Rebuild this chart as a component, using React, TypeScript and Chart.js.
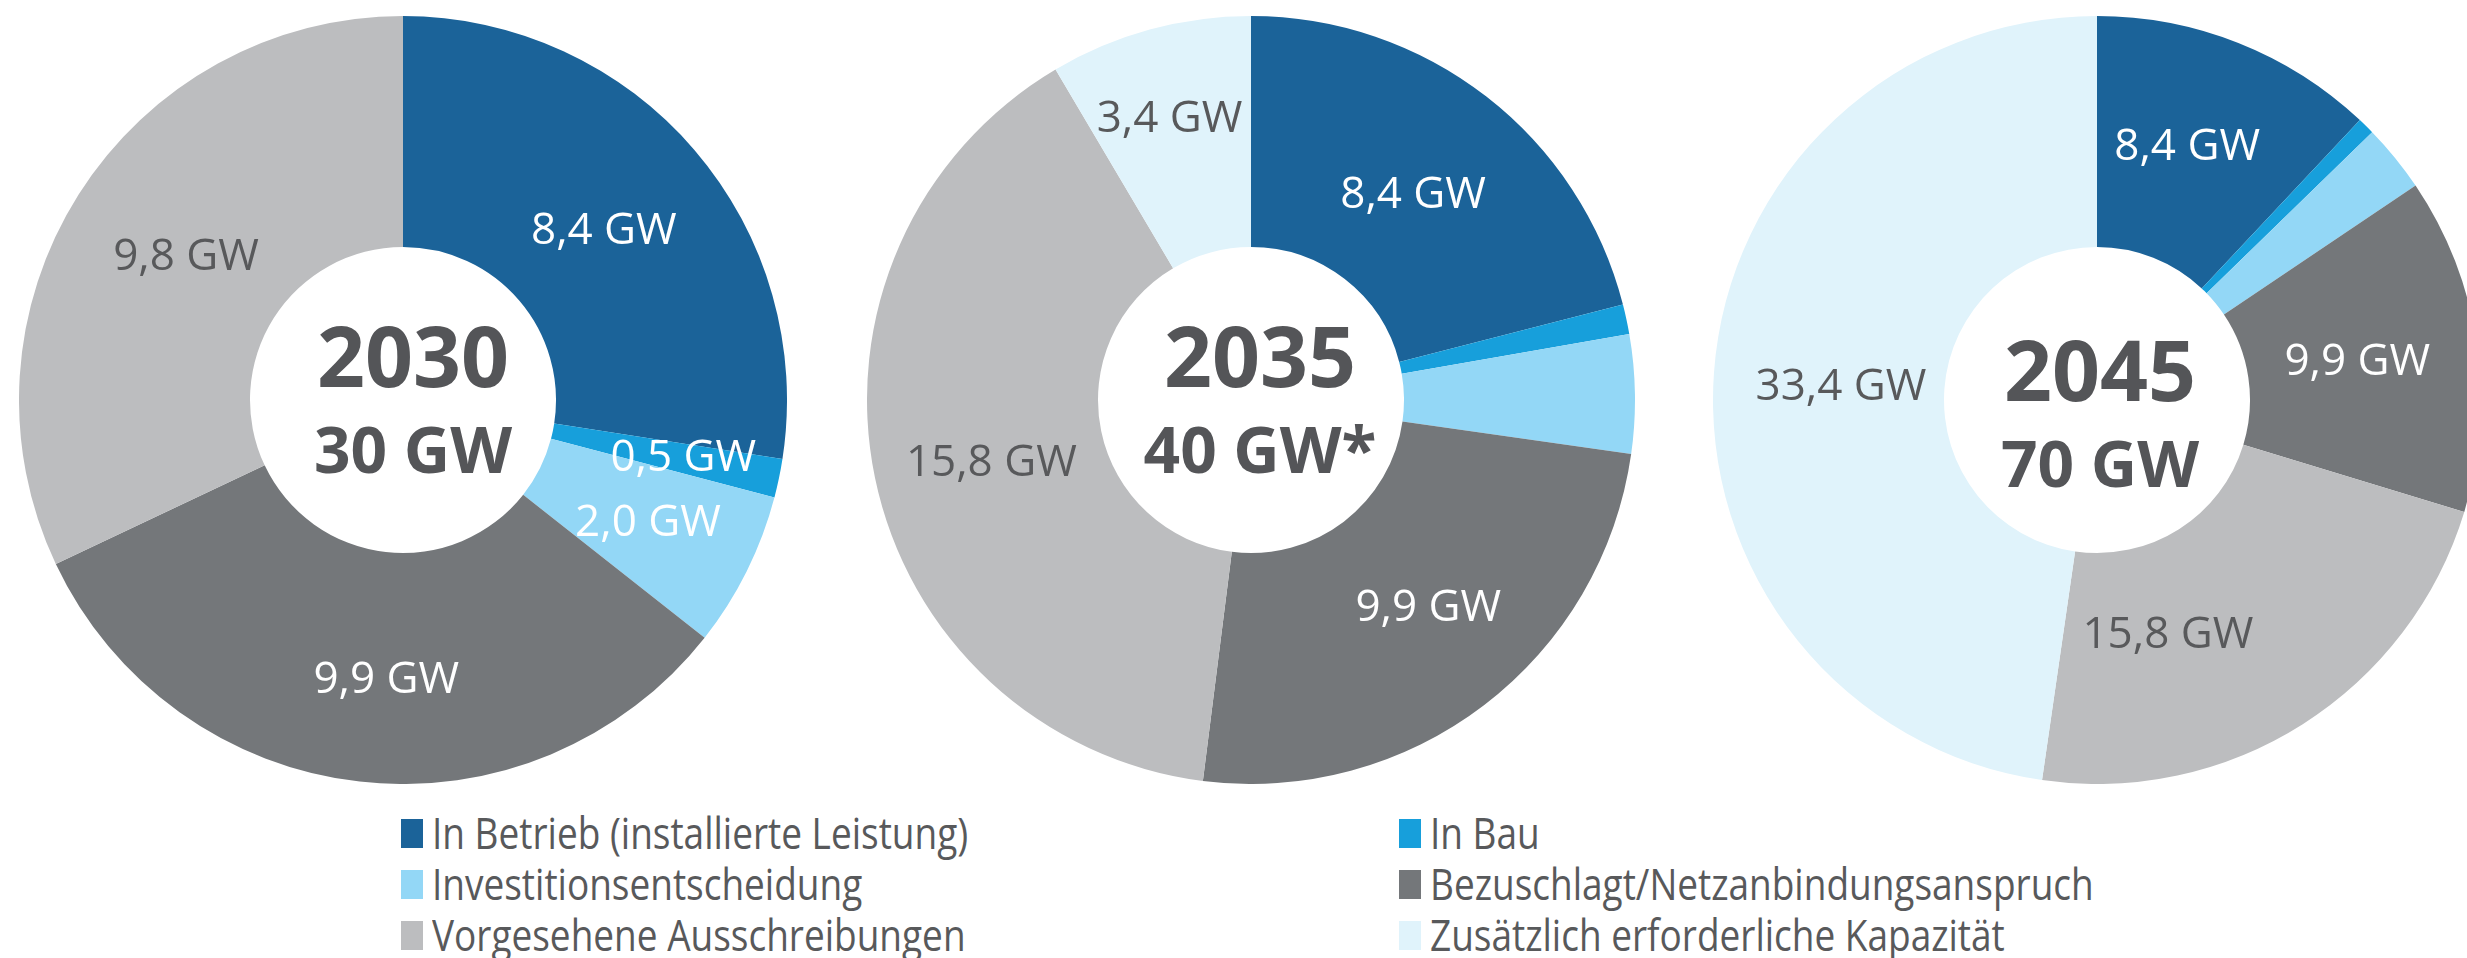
import React, { useEffect, useRef } from 'react';
import { Chart, registerables } from 'chart.js';

Chart.register(...registerables);

// ---------- data ----------
const categories = [
  'In Betrieb (installierte Leistung)',
  'In Bau',
  'Investitionsentscheidung',
  'Bezuschlagt/Netzanbindungsanspruch',
  'Vorgesehene Ausschreibungen',
  'Zusätzlich erforderliche Kapazität',
];
const years = ['2030', '2035', '2045'];
const totals = ['30 GW', '40 GW*', '70 GW'];
const values2030 = [8.4, 0.5, 2.0, 9.9, 9.8, 0];
const values2035 = [8.4, 0.5, 2.0, 9.9, 15.8, 3.4];
const values2045 = [8.4, 0.5, 2.0, 9.9, 15.8, 33.4];
const shownLabels2030 = [true, true, true, true, true, false];
const shownLabels2035 = [true, false, false, true, true, true];
const shownLabels2045 = [true, false, false, true, true, true];

const seriesValues = [values2030, values2035, values2045];
const seriesShown = [shownLabels2030, shownLabels2035, shownLabels2045];

// ---------- styles / layout ----------
const sliceColors = ['#1B6399', '#179FDB', '#93D7F6', '#74777A', '#BCBDBF', '#E0F3FB'];
const labelColors = ['#FFFFFF', '#FFFFFF', '#FFFFFF', '#FFFFFF', '#58595B', '#58595B'];
const TEXT_DARK = '#545558';
const CENTERS_X = [403, 1251, 2097];
const CENTER_Y = 400;
const RADIUS = 384;
const HOLE = 153;
const LABEL_DY = 4;
const centerTextDx = [10, 9, 3];
const centerTextDy = [0, 0, 14];
// label placement tweaks (radius px, angle deg) relative to slice centroid
const labelTweaks = [
  [{ dr: -4, da: 0 }, { dr: 17, da: -0.8 }, { dr: 4, da: -0.5 }, { dr: 8, da: -3 }, { dr: -7, da: 1.6 }, { dr: 0, da: 0 }],
  [{ dr: -4, da: 0 }, { dr: 0, da: 0 }, { dr: 0, da: 0 }, { dr: 2, da: -3.6 }, { dr: -2, da: -1.3 }, { dr: 27, da: -0.7 }],
  [{ dr: 3, da: -2.2 }, { dr: 0, da: 0 }, { dr: 0, da: 0 }, { dr: -5, da: -0.5 }, { dr: -26, da: 15.4 }, { dr: -12, da: -0.5 }],
];

const fmt = (v: number) => v.toFixed(1).replace('.', ',') + ' GW';

function makePlugin(idx: number) {
  return {
    id: 'donutText' + idx,
    afterDatasetsDraw(chart: any) {
      const ctx = chart.ctx as CanvasRenderingContext2D;
      const meta = chart.getDatasetMeta(0);
      const vals = seriesValues[idx];
      const shown = seriesShown[idx];
      ctx.save();
      ctx.font = '44px "Open Sans"';
      ctx.textAlign = 'center';
      ctx.textBaseline = 'middle';
      let cx = 0;
      let cy = 0;
      meta.data.forEach((arc: any, i: number) => {
        const p = arc.getProps(['x', 'y', 'startAngle', 'endAngle', 'innerRadius', 'outerRadius'], true);
        cx = p.x;
        cy = p.y;
        if (!shown[i]) return;
        const tw = labelTweaks[idx][i];
        const mid = (p.startAngle + p.endAngle) / 2 + (tw.da * Math.PI) / 180;
        const r = (p.innerRadius + p.outerRadius) / 2 + tw.dr;
        ctx.fillStyle = labelColors[i];
        ctx.fillText(fmt(vals[i]), p.x + r * Math.cos(mid), p.y + r * Math.sin(mid) + LABEL_DY);
      });
      // center text
      ctx.fillStyle = TEXT_DARK;
      ctx.textBaseline = 'alphabetic';
      ctx.font = 'bold 84px "Open Sans"';
      ctx.fillText(years[idx], cx + centerTextDx[idx], cy - 13 + centerTextDy[idx]);
      ctx.font = 'bold 64px "Open Sans"';
      ctx.fillText(totals[idx], cx + centerTextDx[idx], cy + 73 + centerTextDy[idx]);
      ctx.restore();
    },
  };
}

function Donut({ idx }: { idx: number }) {
  const ref = useRef<HTMLCanvasElement>(null);
  useEffect(() => {
    if (!ref.current) return;
    const chart = new Chart(ref.current, {
      type: 'doughnut',
      data: {
        labels: categories,
        datasets: [
          {
            data: seriesValues[idx],
            backgroundColor: sliceColors,
            borderWidth: 0,
            hoverOffset: 0,
          },
        ],
      },
      options: {
        responsive: false,
        animation: false,
        cutout: HOLE,
        events: [],
        layout: { padding: 0 },
        plugins: { legend: { display: false }, tooltip: { enabled: false } },
      },
      plugins: [makePlugin(idx)],
    } as any);
    return () => chart.destroy();
  }, [idx]);
  return (
    <canvas
      ref={ref}
      width={RADIUS * 2}
      height={RADIUS * 2}
      style={{
        position: 'absolute',
        left: CENTERS_X[idx] - RADIUS,
        top: CENTER_Y - RADIUS,
        width: RADIUS * 2,
        height: RADIUS * 2,
      }}
    />
  );
}

const legendColX = [401, 1399];
const legendRowTop = [807, 858, 909];

function Legend() {
  return (
    <>
      {categories.map((c, i) => {
        const col = i % 2;
        const row = Math.floor(i / 2);
        return (
          <div
            key={c}
            style={{
              position: 'absolute',
              left: legendColX[col],
              top: legendRowTop[row],
              height: 51,
              whiteSpace: 'nowrap',
            }}
          >
            <div
              style={{
                position: 'absolute',
                left: 0,
                top: 12,
                width: 22,
                height: 29,
                background: sliceColors[i],
              }}
            />
            <div
              style={{
                position: 'absolute',
                left: 31,
                top: 0,
                fontFamily: '"Open Sans"',
                fontSize: 43,
                lineHeight: '51px',
                color: '#58595B',
                transform: 'scaleX(0.86)',
                transformOrigin: 'left center',
              }}
            >
              {c}
            </div>
          </div>
        );
      })}
    </>
  );
}

export default function App() {
  return (
    <div
      style={{
        position: 'fixed',
        left: 0,
        top: 0,
        width: 2467,
        height: 958,
        overflow: 'hidden',
        background: '#FFFFFF',
      }}
    >
      <Donut idx={0} />
      <Donut idx={1} />
      <Donut idx={2} />
      <Legend />
    </div>
  );
}
